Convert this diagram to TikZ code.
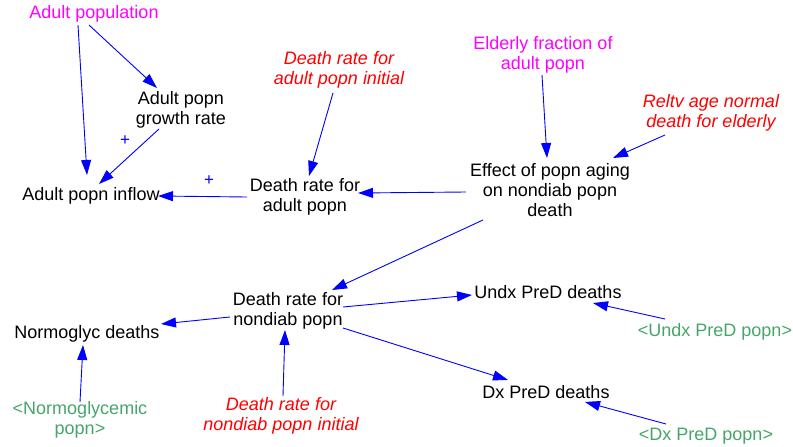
\documentclass[tikz,border=0pt]{standalone}
\usepackage{fontspec}
\setmainfont{Liberation Sans}
\usetikzlibrary{calc,arrows.meta}
\definecolor{linkblue}{RGB}{0,0,255}
\definecolor{stockpink}{RGB}{255,0,255}
\definecolor{givenred}{RGB}{255,0,0}
\definecolor{ghostgreen}{RGB}{70,165,105}

\begin{document}
\begin{tikzpicture}[x=1pt,y=-1pt,
  every node/.style={align=center,inner sep=0pt,font=\fontsize{18}{20}\selectfont},
  stockvar/.style={text=stockpink},
  given/.style={text=givenred,font=\fontsize{18}{20}\selectfont\itshape},
  ghost/.style={text=ghostgreen},
  link/.style={draw=linkblue,line width=0.9pt,-{Triangle[length=15pt,width=10pt]}},
  pol/.style={text=linkblue,font=\fontsize{17}{17}\selectfont}]
\useasboundingbox (0,0) rectangle (793,447);

% Adult popn sector
\node[stockvar] (apop) at (94,14) {Adult population};
\node (growth) at (181,110) {Adult popn\\growth rate};
\node (inflow) at (91,196) {Adult popn inflow};
\node (dradult) at (305,197) {Death rate for\\adult popn};
\node[given] (dradultinit) at (339,70) {Death rate for\\adult popn initial};
\node[stockvar] (elderly) at (543,55) {Elderly fraction of\\adult popn};
\node[given] (reltv) at (711,113) {Reltv age normal\\death for elderly};
\node (effect) at (550,190) {Effect of popn aging\\on nondiab popn\\death};

% Nondiab deaths sector
\node (drnondiab) at (288,311) {Death rate for\\nondiab popn};
\node (normo) at (87,334) {Normoglyc deaths};
\node[ghost] (normopop) at (80,420) {<Normoglycemic\\popn>};
\node[given] (drnondiabinit) at (281,416) {Death rate for\\nondiab popn initial};
\node (undx) at (548,292) {Undx PreD deaths};
\node[ghost] (undxpop) at (715,332) {<Undx PreD popn>};
\node (dx) at (546,392) {Dx PreD deaths};
\node[ghost] (dxpop) at (706,436) {<Dx PreD popn>};

% Polarity signs
\node[pol] (plusgrowth) at (125,141) {+};
\node[pol] (plusdeath) at (209,181) {+};

% Links
\draw[link] ($(apop)+(-16,11)$) -- ($(inflow)+(-4,-21)$);
\draw[link] ($(apop)+(-5,11)$) -- ($(growth)+(-24,-22)$);
\draw[link] ($(growth)+(-22,19)$) -- ($(inflow)+(8,-12)$);
\draw[link] ($(dradult)+(-58,0)$) -- ($(inflow)+(67,0)$);
\draw[link] ($(dradultinit)+(-6,23)$) -- ($(dradult)+(4,-21)$);
\draw[link] ($(effect)+(-84,2)$) -- ($(dradult)+(53,-4)$);
\draw[link] ($(elderly)+(-1,20)$) -- ($(effect)+(-3,-32)$);
\draw[link] ($(reltv)+(-46,22)$) -- ($(effect)+(63,-32)$);
\draw[link] ($(effect)+(-67,30)$) -- ($(drnondiab)+(44,-21)$);
\draw[link] ($(drnondiab)+(-58,6)$) -- ($(normo)+(74,-10)$);
\draw[link] ($(normopop)+(0,-18)$) -- ($(normo)+(-4,11)$);
\draw[link] ($(drnondiabinit)+(2,-20)$) -- ($(drnondiab)+(-3,19)$);
\draw[link] ($(drnondiab)+(55,-4)$) -- ($(undx)+(-76,3)$);
\draw[link] ($(undxpop)+(-50,-13)$) -- ($(undx)+(45,11)$);
\draw[link] ($(drnondiab)+(55,17)$) -- ($(dx)+(-38,-12)$);
\draw[link] ($(dxpop)+(-40,-12)$) -- ($(dx)+(39,10)$);
\end{tikzpicture}
\end{document}
